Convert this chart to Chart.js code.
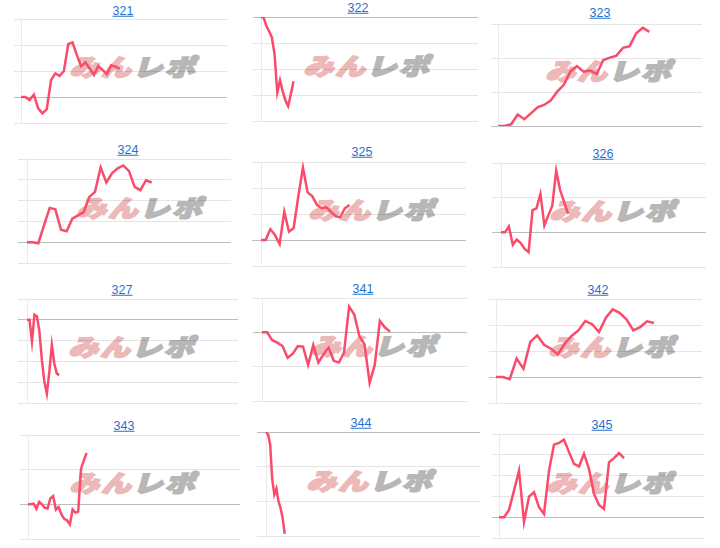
<!DOCTYPE html>
<html><head><meta charset="utf-8">
<script src="https://cdn.jsdelivr.net/npm/chart.js"></script>
<style>
html,body{margin:0;padding:0;background:#fff;width:720px;height:548px;overflow:hidden;position:relative;font-family:"Liberation Sans",Arial,sans-serif}
.t{position:absolute;transform:translate(-50%,-50%);color:#1f73cf;text-decoration:underline;font-size:12.5px;white-space:nowrap;line-height:1}
.wm{position:absolute;transform:translate(-50%,-50%) skewX(-16deg) scale(1.06,0.84);font-family:"Noto Sans CJK JP";font-weight:900;font-size:28px;white-space:nowrap;line-height:1;z-index:0;letter-spacing:2px}
.wm .a{color:#ecb8b8;-webkit-text-stroke:2.2px #ecb8b8}
.wm .b{color:#b7b7b7;-webkit-text-stroke:2.2px #b7b7b7}
canvas{position:absolute;z-index:1}
</style></head><body>
<script>
// ---- data ----
const titles = ['321','322','323','324','325','326','327','341','342','343','344','345'];
const s321 = [0,0,-0.12,0.09,-0.44,-0.63,-0.47,0.65,0.91,0.81,1.0,2.03,2.1,1.62,1.19,1.33,1.1,0.85,1.19,1.04,0.88,1.22,1.17,1.08];
const s322 = [0,-0.03,-0.35,-0.55,-0.78,-1.43,-2.9,-2.43,-2.86,-3.2,-3.43,-2.97,-2.47];
const s323 = [0,0,0.05,0.34,0.2,0.37,0.55,0.62,0.75,1.01,1.21,1.6,1.76,1.6,1.63,1.53,1.94,2.01,2.07,2.3,2.35,2.73,2.89,2.77];
const s324 = [0,0,-0.05,0.81,1.65,1.58,0.6,0.53,1.13,1.29,1.45,2.18,2.42,3.6,2.87,3.31,3.55,3.69,3.42,2.66,2.5,2.98,2.87];
const s325 = [0,0,0.42,0.19,-0.15,1.09,0.32,0.45,1.67,2.79,1.83,1.69,1.35,1.22,1.26,1.09,0.92,0.87,1.22,1.35];
const s326 = [0,0,0.17,-0.36,-0.21,-0.31,-0.48,-0.57,0.64,0.69,1.11,0.2,0.49,0.76,1.78,1.22,0.88,0.54];
const s327 = [0,0,-1.05,0.24,0.16,-0.56,-1.94,-2.98,-3.55,-2.5,-1.21,-2.1,-2.58,-2.66];
const s341 = [0,0,-0.23,-0.3,-0.4,-0.74,-0.62,-0.4,-0.42,-0.95,-0.37,-0.88,-0.64,-0.45,-0.83,-0.88,-0.59,0.75,0.52,-0.11,-0.35,-1.47,-0.95,0.33,0.14,0.02];
const s342 = [0,0,-0.08,0.71,0.32,1.35,1.6,1.24,1.09,0.87,1.28,1.58,1.79,2.15,2.03,1.73,2.28,2.6,2.47,2.22,1.79,1.92,2.14,2.08];
const s343 = [0,0,0.02,-0.13,0.07,0,-0.1,-0.12,0.17,0.24,-0.15,-0.08,-0.29,-0.42,-0.46,-0.58,-0.15,-0.24,-0.21,1.02,1.26,1.48];
const s344 = [0,-0.07,-0.36,-1.37,-1.8,-1.63,-2.0,-2.19,-2.48,-2.94];
const s345 = [0,0,0.35,1.28,2.24,-0.24,0.99,1.2,0.48,0.16,2.24,3.49,3.57,3.73,3.13,2.56,2.44,3.04,2.32,1.12,0.59,0.4,2.64,2.84,3.08,2.84];
const series = [s321,s322,s323,s324,s325,s326,s327,s341,s342,s343,s344,s345];
// number of x categories (time slots) per chart
const slotCounts = [49,81,32,37,45,53,86,41,31,77,104,42];
// y axis ranges (tick values)
const yMin = [-1,-4,0,-1,-1,-1,-4,-2,-1,-1,-3,-1];
const yMax = [3,0,3,4,3,2,1,1,3,2,0,4];
const yStep = [1,1,1,1,1,1,1,1,1,1,1,1];

// ---- layout (pixels): gridLeft, axisX, right, top, bottom, titleX, titleY, wmX, wmY ----
const frames = [
 [14,21,227,19,123,123,11,136,66],
 [253,261,478,17,121,358,8,370,65],
 [491,498,702,24,126,600,13,612,70],
 [18,27,231,159,263,128,150,143,207],
 [252,261,466,162,266,362,152,375,209],
 [492,501,706,163,267,603,154,616,210],
 [18,27,238,299,403,122,290,135,346],
 [253,262,467,298,401,363,289,377,345],
 [489,496,702,299,403,598,290,615,346],
 [20,28,240,435,539,124,426,136,482],
 [257,266,480,432,536,361,423,373,480],
 [492,499,704,434,538,602,425,613,482]
];
const LINE = '#fa4b6b';
const PAD = 4;

titles.forEach((title, i) => {
  const [gl, ax, rt, tp, bt, tx, ty, wx, wy] = frames[i];
  const a = document.createElement('span');
  a.className = 't'; a.textContent = title;
  a.style.left = tx + 'px'; a.style.top = ty + 'px';
  document.body.appendChild(a);

  const wm = document.createElement('div');
  wm.className = 'wm';
  wm.innerHTML = '<span class="a">みん</span><span class="b">レポ</span>';
  wm.style.left = wx + 'px'; wm.style.top = wy + 'px';
  document.body.appendChild(wm);

  const cv = document.createElement('canvas');
  const w = rt - gl, h = bt - tp + PAD * 2;
  cv.width = w; cv.height = h;
  cv.style.left = gl + 'px'; cv.style.top = (tp - PAD) + 'px';
  cv.style.width = w + 'px'; cv.style.height = h + 'px';
  document.body.appendChild(cv);

  const labels = Array.from({length: slotCounts[i]}, (_, k) => String(k + 1));
  new Chart(cv, {
    type: 'line',
    data: {labels, datasets: [{data: series[i], borderColor: LINE, borderWidth: 2.5, pointRadius: 0, tension: 0, fill: false}]},
    options: {
      responsive: false, animation: false, devicePixelRatio: 1,
      layout: {padding: {top: PAD, bottom: PAD, left: 0, right: 0}},
      plugins: {legend: {display: false}, tooltip: {enabled: false}, title: {display: false}},
      scales: {
        x: {display: false},
        y: {
          min: yMin[i], max: yMax[i],
          ticks: {display: false, stepSize: yStep[i]},
          grid: {
            tickLength: ax - gl,
            color: c => (c.tick && c.tick.value === 0) ? 'rgba(0,0,0,0.26)' : 'rgba(0,0,0,0.1)'
          },
          border: {display: true, color: 'rgba(0,0,0,0.08)'}
        }
      }
    }
  });
});
</script>
</body></html>
